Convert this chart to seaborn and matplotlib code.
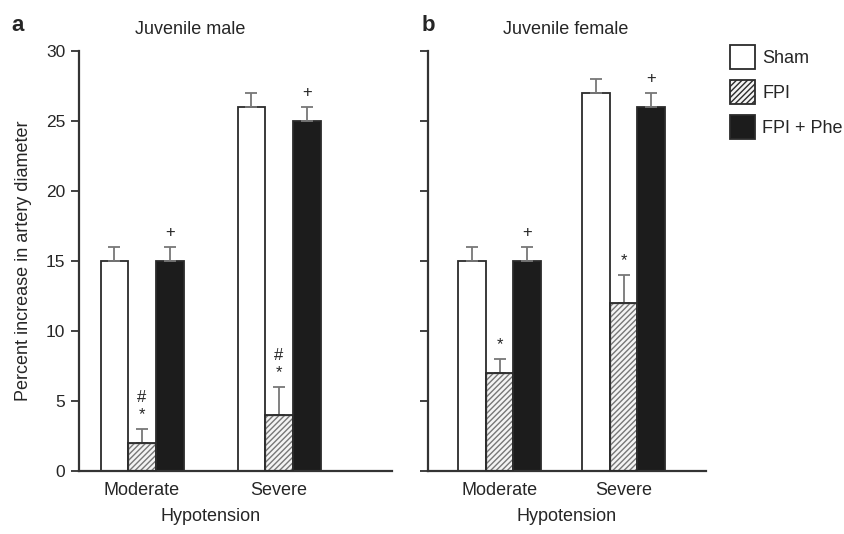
import numpy as np
import pandas as pd
import matplotlib
matplotlib.use("Agg")
import matplotlib.pyplot as plt
from matplotlib.patches import Patch
import seaborn as sns

# Data
levels = ["Moderate", "Severe"]
groups = ["Sham", "FPI", "FPI + Phe"]

male_sham = [15, 26]
male_fpi = [2, 4]
male_phe = [15, 25]
male_sham_err = [1, 1]
male_fpi_err = [1, 2]
male_phe_err = [1, 1]

female_sham = [15, 27]
female_fpi = [7, 12]
female_phe = [15, 26]
female_sham_err = [1, 1]
female_fpi_err = [1, 2]
female_phe_err = [1, 1]

# significance marks (per group, per level)
male_marks = {"FPI": ["#\n*", "#\n*"], "FPI + Phe": ["+", "+"]}
female_marks = {"FPI": ["*", "*"], "FPI + Phe": ["+", "+"]}

sns.set_style("ticks")
plt.rcParams["font.family"] = ["Liberation Sans", "DejaVu Sans"]

edge = "#2b2b2b"
colors = {"Sham": "white", "FPI": "#f4f4f4", "FPI + Phe": "#1c1c1c"}


def make_df(sham, fpi, phe):
    rows = []
    for g, vals in zip(groups, [sham, fpi, phe]):
        for lv, v in zip(levels, vals):
            rows.append({"level": lv, "group": g, "value": v})
    return pd.DataFrame(rows)


def draw_panel(ax, df, errs, marks, width, xlim):
    sns.barplot(data=df, x="level", y="value", hue="group", order=levels,
                hue_order=groups, palette=colors, width=width, gap=0,
                edgecolor=edge, linewidth=1.3, errorbar=None, legend=False,
                ax=ax)
    for g, cont, err in zip(groups, ax.containers, errs):
        xs = [b.get_x() + b.get_width() / 2 for b in cont]
        hs = [b.get_height() for b in cont]
        if g == "FPI":
            for b in cont:
                b.set_hatch("//////")
                b.set_edgecolor("#777777")
                b.set_linewidth(1.0)
        ax.errorbar(xs, hs, yerr=[np.zeros(len(err)), err], fmt="none",
                    ecolor="#777777", elinewidth=1.3, capsize=4,
                    capthick=1.3, zorder=1)
        if g in marks:
            for x, h, e, m in zip(xs, hs, err, marks[g]):
                ax.text(x, h + e + 0.5, m, ha="center", va="bottom",
                        fontsize=12, linespacing=1.15)
    # dark outline on hatched bars
    for b in ax.containers[1]:
        ax.add_patch(plt.Rectangle((b.get_x(), 0), b.get_width(),
                                   b.get_height(), fill=False,
                                   edgecolor=edge, linewidth=1.3, zorder=3))
    ax.set_ylim(0, 30)
    ax.set_yticks(range(0, 31, 5))
    ax.set_xlim(*xlim)
    ax.tick_params(axis="x", length=0, labelsize=13, pad=8)
    ax.tick_params(axis="y", length=6, width=1.3, labelsize=12.5, pad=4,
                   color="#333333")
    for s in ["left", "bottom"]:
        ax.spines[s].set_linewidth(1.6)
        ax.spines[s].set_color("#333333")
    sns.despine(ax=ax)


fig = plt.figure(figsize=(8.45, 5.34), dpi=100)
ax1 = fig.add_axes([0.0935, 0.118, 0.3705, 0.7865])
ax2 = fig.add_axes([0.5065, 0.118, 0.329, 0.7865])

draw_panel(ax1, make_df(male_sham, male_fpi, male_phe),
           [male_sham_err, male_fpi_err, male_phe_err], male_marks,
           0.606, (-0.46, 1.825))
draw_panel(ax2, make_df(female_sham, female_fpi, female_phe),
           [female_sham_err, female_fpi_err, female_phe_err], female_marks,
           0.67, (-0.577, 1.665))

ax1.set_ylabel("Percent increase in artery diameter", fontsize=13)
ax1.yaxis.set_label_coords(-0.15, 0.5)
ax2.set_ylabel("")
ax2.set_yticklabels([])

for ax, xc in [(ax1, 0.42), (ax2, 0.5)]:
    ax.set_xlabel("Hypotension", fontsize=13)
    ax.xaxis.set_label_coords(xc, -0.088)

ax1.text(0.355, 1.05, "Juvenile male", transform=ax1.transAxes,
         ha="center", va="center", fontsize=13)
ax2.text(0.496, 1.05, "Juvenile female", transform=ax2.transAxes,
         ha="center", va="center", fontsize=13)
fig.text(0.021, 0.953, "a", fontsize=16, fontweight="bold",
         ha="center", va="center")
fig.text(0.507, 0.953, "b", fontsize=16, fontweight="bold",
         ha="center", va="center")

handles = [Patch(facecolor=colors[g], edgecolor=edge, linewidth=1.3,
                 hatch="//////" if g == "FPI" else None) for g in groups]
fig.legend(handles, groups, loc="upper left", bbox_to_anchor=(0.855, 0.93),
           frameon=False, fontsize=13, handlelength=1.4, handleheight=1.7,
           handletextpad=0.4, labelspacing=0.6, borderaxespad=0)

fig.savefig("out.png", dpi=100)
